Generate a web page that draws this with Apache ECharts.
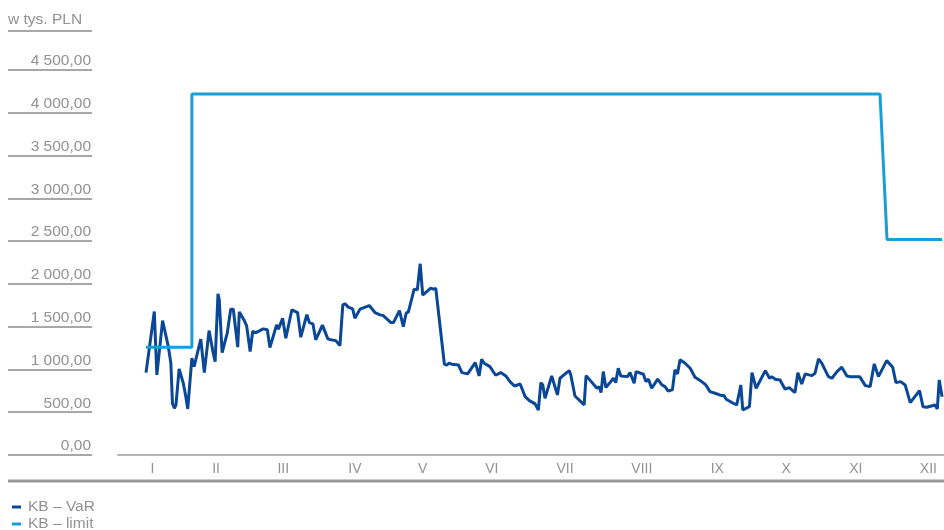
<!DOCTYPE html>
<html>
<head>
<meta charset="utf-8">
<script src="https://cdn.jsdelivr.net/npm/echarts@6/dist/echarts.min.js"></script>
<style>
html,body{margin:0;padding:0;background:#fff;}
#chart{width:944px;height:530px;}
</style>
</head>
<body>
<div id="chart"></div>
<script>
// ---- data ----
const unitLabel = 'w tys. PLN';
const months = ['I','II','III','IV','V','VI','VII','VIII','IX','X','XI','XII'];
// month label positions on the trading-day scale (0..250)
const monthPos = [2.0, 22.0, 43.1, 65.6, 86.9, 108.6, 131.6, 155.7, 179.4, 201.0, 222.9, 245.7];

const seriesNames = ['KB \u2013 VaR', 'KB \u2013 limit'];

// KB – VaR (trading day index, value in thousands PLN)
const varDays = [0.0,2.6,3.4,5.2,7.0,7.8,8.3,8.9,9.4,10.4,11.7,12.5,13.1,14.4,15.1,17.2,18.3,19.8,20.9,21.7,
22.6,23.0,23.9,25.5,26.6,27.4,28.8,29.3,30.9,31.6,32.7,33.5,34.5,36.8,38.1,38.9,41.0,41.6,42.9,43.9,
45.8,47.6,48.6,50.5,51.3,52.4,53.3,55.4,57.1,58.1,59.6,60.9,61.8,62.5,63.5,64.9,65.6,67.2,67.7,70.1,
70.6,71.9,73.5,74.5,76.9,77.7,79.6,80.8,81.7,82.4,84.2,85.2,86.1,86.9,89.4,90.2,91.0,93.7,94.4,95.2,
96.0,98.1,99.2,101.0,103.4,104.6,105.4,106.2,108.0,109.8,111.4,113.0,114.3,115.7,117.5,119.0,120.4,122.2,123.2,124.0,
124.6,125.3,127.4,129.2,130.0,132.1,132.9,133.4,134.0,134.7,137.6,138.2,141.6,142.3,142.9,143.6,144.4,146.8,147.5,148.3,
149.1,151.2,152.0,153.3,153.9,156.2,157.0,157.8,158.8,160.7,162.0,163.0,163.9,165.3,166.1,166.9,167.7,169.3,170.9,172.4,
174.5,175.8,177.1,178.7,180.8,181.5,182.2,184.4,185.5,186.8,187.4,189.5,190.3,191.6,194.5,195.8,196.5,197.6,199.1,200.7,
202.0,203.8,204.7,205.9,207.0,209.1,210.1,211.2,212.2,214.3,215.4,217.0,218.5,220.1,221.1,224.1,224.5,225.9,227.4,228.7,
230.0,232.6,234.5,235.5,237.0,238.4,240.0,242.9,244.0,245.2,247.8,248.5,249.1,250.0];
const varValues = [963,1677,936,1571,1267,1073,605,546,585,1006,839,682,538,1131,1033,1354,963,1454,1229,1092,
1884,1814,1197,1424,1705,1705,1260,1673,1568,1509,1209,1443,1431,1474,1463,1255,1521,1471,1599,1365,
1697,1665,1377,1641,1548,1533,1346,1518,1357,1346,1337,1279,1755,1767,1728,1708,1599,1705,1688,1747,
1747,1665,1638,1630,1548,1548,1688,1501,1658,1673,1939,1931,2235,1868,1950,1939,1946,1061,1050,1073,
1061,1053,963,948,1080,924,1120,1073,1033,932,963,924,858,807,830,686,635,597,526,846,
819,663,924,702,897,963,986,936,936,690,585,928,780,799,729,975,788,897,846,1014,
924,916,963,839,975,944,858,886,780,886,819,799,749,761,995,948,1112,1073,1014,909,
858,819,741,722,694,694,652,605,585,819,526,565,963,780,986,897,916,886,877,769,
788,729,963,831,948,928,956,1123,1073,916,897,975,1026,924,916,916,936,811,799,1065,
916,1103,1026,846,858,819,612,752,565,558,585,538,877,682];

// KB – limit
const limitDays = [0, 14.4, 14.4, 230.5, 232.7, 250];
const limitValues = [1260, 1260, 4220, 4220, 2520, 2520];

// ---- chart ----
function plFmt(v){
  const s = v.toFixed(2).split('.');
  const i = s[0].replace(/\B(?=(\d{3})+(?!\d))/g, ' ');
  return i + ',' + s[1];
}
function zip(a,b){ return a.map((x,i)=>[x,b[i]]); }

const FONT = '"Liberation Sans", Arial, sans-serif';
const TXT = '#929292';
const VAR_C = '#0b4797';
const LIM_C = '#1a9fd4';
const legendBase = {
  orient:'vertical', left:7, itemGap:0,
  itemWidth:9, itemHeight:3, icon:'rect',
  textStyle:{color:TXT, fontSize:15.5, fontFamily:FONT, padding:[0,0,0,2]}
};
const chart = echarts.init(document.getElementById('chart'), null, {renderer:'canvas'});
chart.setOption({
  animation:false,
  backgroundColor:'#fff',
  textStyle:{fontFamily:FONT},
  grid:[
    {left:8, width:84, top:70, bottom:75},
    {left:118, right:0, top:70, bottom:75}
  ],
  xAxis:[
    {gridIndex:0, type:'value', show:false, min:0, max:1},
    {gridIndex:1, type:'value', min:-8.8, max:250.6,
     axisLine:{show:true, lineStyle:{color:'#b3b3b3', width:2}},
     axisTick:{show:false},
     splitLine:{show:false},
     axisLabel:{customValues:monthPos, color:TXT, fontSize:14, fontFamily:FONT, margin:7,
       formatter:function(v){ const k = monthPos.indexOf(v); return k>=0 ? months[k] : ''; }}
    }
  ],
  yAxis:[
    {gridIndex:0, type:'value', position:'right', min:0, max:4500, interval:500,
     axisLine:{show:false}, axisTick:{show:false},
     splitLine:{show:true, lineStyle:{color:'#a8a8a8', width:2}},
     axisLabel:{inside:true, margin:1, color:TXT, fontSize:15.5, fontFamily:FONT,
       verticalAlign:'bottom', padding:[0,0,1,0], formatter:plFmt}
    },
    {gridIndex:1, type:'value', min:0, max:4500, interval:500, show:false, splitLine:{show:false}}
  ],
  legend:[
    Object.assign({}, legendBase, {top:494, data:[{name:seriesNames[0], itemStyle:{color:VAR_C}}]}),
    Object.assign({}, legendBase, {top:511, data:[{name:seriesNames[1], itemStyle:{color:LIM_C}}]})
  ],
  graphic:[
    {type:'text', left:8, top:12, style:{text:unitLabel, fill:TXT, font:'15.5px "Liberation Sans", Arial, sans-serif'}},
    {type:'line', shape:{x1:8, y1:31, x2:92, y2:31}, style:{stroke:'#a8a8a8', lineWidth:2}},
    {type:'line', shape:{x1:8, y1:481, x2:944, y2:481}, style:{stroke:'#9a9a9a', lineWidth:3}}
  ],
  series:[
    {name:seriesNames[0], type:'line', xAxisIndex:1, yAxisIndex:1, data:zip(varDays,varValues),
     showSymbol:false, symbol:'none', lineStyle:{color:VAR_C, width:3}, itemStyle:{color:VAR_C}},
    {name:seriesNames[1], type:'line', xAxisIndex:1, yAxisIndex:1, data:zip(limitDays,limitValues),
     showSymbol:false, symbol:'none', lineStyle:{color:LIM_C, width:3}, itemStyle:{color:LIM_C}}
  ]
});
</script>
</body>
</html>
